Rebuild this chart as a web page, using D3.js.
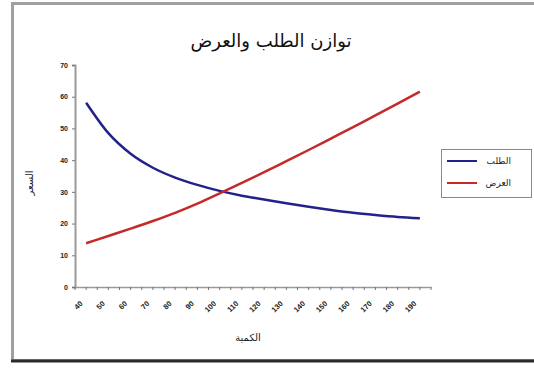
<!DOCTYPE html>
<html><head><meta charset="utf-8">
<script src="https://cdn.jsdelivr.net/npm/d3@7"></script>
<style>body{margin:0;background:#fff} svg{display:block}</style>
</head><body><svg id="c" width="534" height="369"></svg>
<script>
const categories = [40,50,60,70,80,90,100,110,120,130,140,150,160,170,180,190];
const demand = [58.1,48.5,42.0,37.6,34.5,32.2,30.3,28.8,27.6,26.4,25.3,24.3,23.4,22.7,22.1,21.7];
const supply = [13.8,16.1,18.4,20.8,23.4,26.3,29.5,32.8,36.2,39.7,43.2,46.8,50.4,54.1,57.8,61.6];
const yTicks = [0,10,20,30,40,50,60,70];
const titleText = "توازن الطلب والعرض";
const xTitle = "الكمية";
const yTitle = "السعر";
const seriesNames = ["الطلب","العرض"];
const seriesColors = ["#22228a","#c42a2a"];

const svg = d3.select("#c");
const arabicFont = "'DejaVu Sans', sans-serif";
const numFont = "'Liberation Sans', Arial, sans-serif";

// frame
svg.append("rect").attr("x",12.5).attr("y",3.5).attr("width",530).attr("height",357)
  .attr("fill","#fff").attr("stroke","#a0a0a0").attr("stroke-width",3);
svg.append("line").attr("x1",11).attr("x2",534).attr("y1",361).attr("y2",361)
  .attr("stroke","#2a2a2a").attr("stroke-width",3);

const x = d3.scaleBand().domain(categories).range([75,431]);
const y = d3.scaleLinear().domain([0,70]).range([287,65]);
const bw = x.bandwidth();
const cx = c => x(c) + bw/2;

// title
svg.append("text").attr("x",271).attr("y",47).attr("text-anchor","middle")
  .attr("font-family",arabicFont).attr("font-size",18).attr("fill","#111").text(titleText);

// y axis
const yAxis = svg.append("g").attr("transform","translate(75,0)")
  .call(d3.axisLeft(y).tickValues(yTicks).tickSize(3).tickPadding(4).tickFormat(d3.format("d")));
yAxis.select(".domain").attr("stroke","#9a9a9a").attr("stroke-width",2);
yAxis.selectAll(".tick line").attr("stroke","#777");
yAxis.selectAll("text").attr("font-family",numFont).attr("font-size",7).attr("font-weight","bold").attr("fill","#222");

// x axis
const xAxis = svg.append("g").attr("transform","translate(0,287)")
  .call(d3.axisBottom(x).tickSize(0).tickPadding(0));
xAxis.select(".domain").attr("stroke","#9a9a9a").attr("stroke-width",1.5);
xAxis.selectAll(".tick text")
  .attr("font-family",numFont).attr("font-size",7.5).attr("font-weight","bold").attr("fill","#222")
  .attr("text-anchor","end").attr("y",0).attr("dy","0")
  .attr("transform","translate(-3,17) rotate(-45)");
// tick marks at band boundaries and centers
const tickPos = [];
categories.forEach(c => { tickPos.push(x(c)); tickPos.push(cx(c)); });
tickPos.push(x(categories[categories.length-1]) + bw);
svg.append("g").selectAll("line").data(tickPos).join("line")
  .attr("x1",d=>d).attr("x2",d=>d).attr("y1",287).attr("y2",290)
  .attr("stroke","#777").attr("stroke-width",1);

// axis titles
svg.append("text").attr("transform","translate(33,183) rotate(-90)").attr("text-anchor","middle")
  .attr("font-family",arabicFont).attr("font-size",10).attr("fill","#222").text(yTitle);
svg.append("text").attr("x",248).attr("y",341).attr("text-anchor","middle")
  .attr("font-family",arabicFont).attr("font-size",10).attr("fill","#222").text(xTitle);

// lines
const line = d3.line().x(d=>cx(d.c)).y(d=>y(d.v)).curve(d3.curveMonotoneX);
[demand, supply].forEach((vals,i) => {
  svg.append("path").datum(categories.map((c,j)=>({c, v: vals[j]})))
    .attr("d",line).attr("fill","none").attr("stroke",seriesColors[i]).attr("stroke-width",2.5)
    .attr("stroke-linejoin","round");
});

// legend
svg.append("rect").attr("x",441.5).attr("y",149.5).attr("width",90).attr("height",48)
  .attr("fill","#fff").attr("stroke","#888").attr("stroke-width",1);
seriesNames.forEach((n,i) => {
  const ly = 161 + i*22;
  svg.append("line").attr("x1",447).attr("x2",477).attr("y1",ly).attr("y2",ly)
    .attr("stroke",seriesColors[i]).attr("stroke-width",2);
  svg.append("text").attr("x",511).attr("y",ly+3).attr("text-anchor","end")
    .attr("font-family",arabicFont).attr("font-size",9).attr("fill","#222").text(n);
});
</script></body></html>
